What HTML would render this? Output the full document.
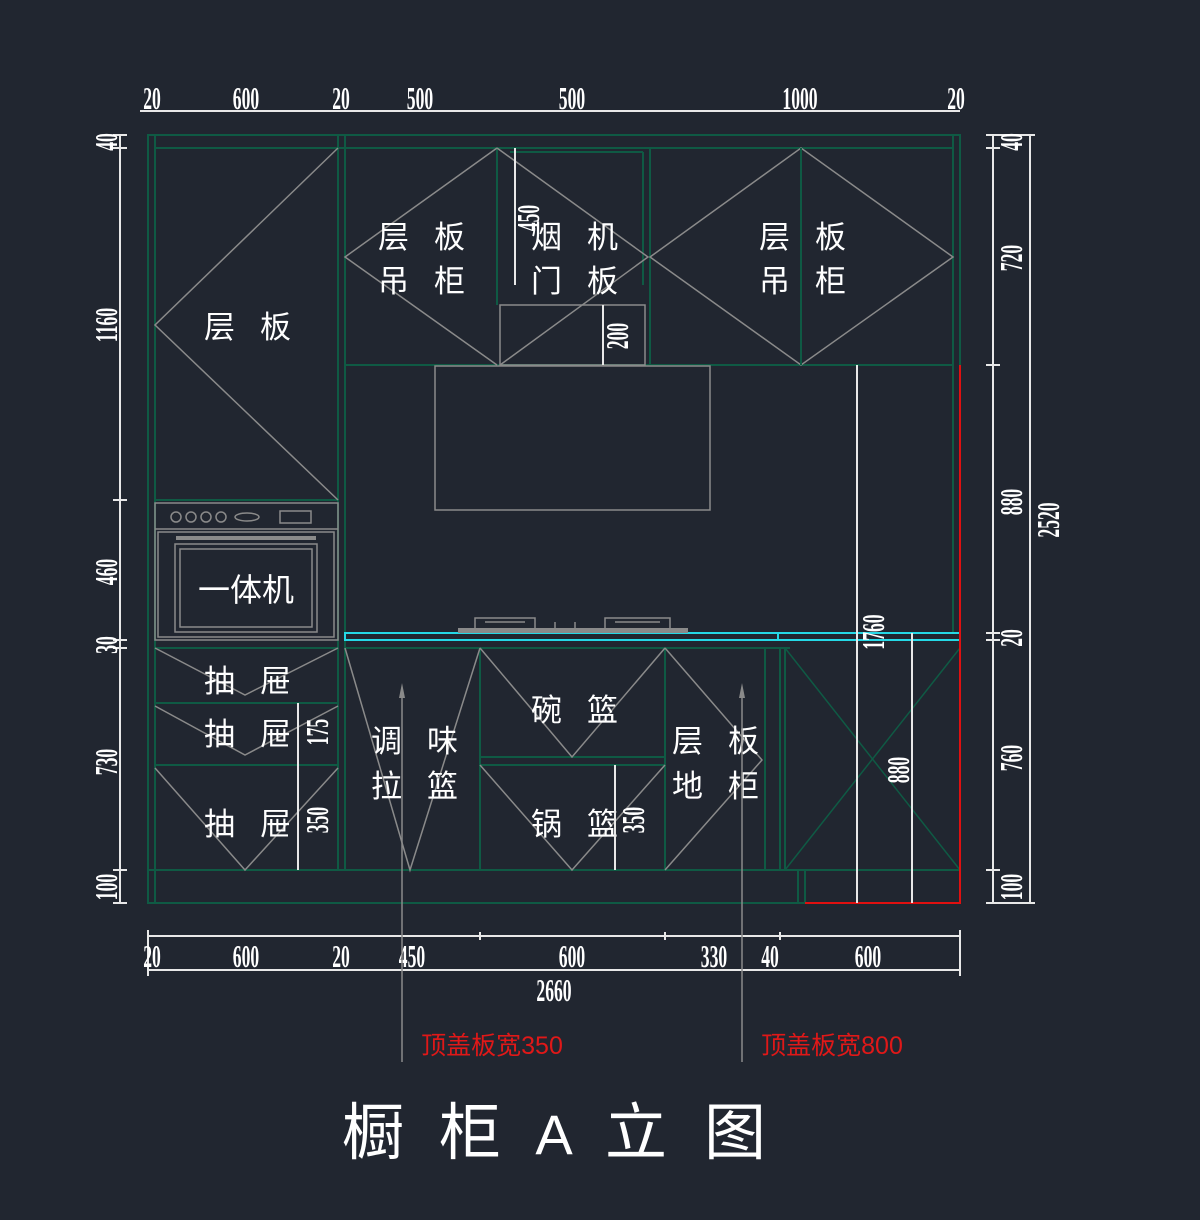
<!DOCTYPE html>
<html><head><meta charset="utf-8"><style>
html,body{margin:0;padding:0;background:#212630;}
svg{display:block}
.g{stroke:#0f5a44;stroke-width:2;fill:none}
.gy{stroke:#8a8a8a;stroke-width:1.5;fill:none}
.w{stroke:#e8e8e8;stroke-width:2;fill:none}
.d{fill:#fff;font-family:"Liberation Serif",serif;font-size:32px;text-anchor:middle;font-weight:bold}
.c{fill:#fff;font-family:"Liberation Sans","Noto Sans CJK SC",sans-serif;font-size:31px;text-anchor:middle;letter-spacing:25px}
</style></head><body>
<svg width="1200" height="1220" viewBox="0 0 1200 1220" xmlns="http://www.w3.org/2000/svg">
<rect width="1200" height="1220" fill="#212630"/>
<!-- frame -->
<rect x="148" y="135" width="812" height="768" class="g"/>
<line x1="155" y1="148" x2="953" y2="148" class="g"/>
<line x1="155" y1="135" x2="155" y2="903" class="g"/>
<line x1="338" y1="135" x2="338" y2="870" class="g"/>
<line x1="345" y1="135" x2="345" y2="870" class="g"/>
<line x1="953" y1="135" x2="953" y2="633" class="g"/>
<!-- left tall -->
<line x1="155" y1="500" x2="338" y2="500" class="g"/>
<polyline points="338,148 155,325 338,500" class="gy"/>
<text class="c" x="260" y="338">层板</text>
<!-- oven -->
<rect x="155" y="503" width="183" height="137" class="gy"/>
<line x1="155" y1="529" x2="338" y2="529" class="gy"/>
<rect x="158" y="532" width="176" height="105" class="gy"/>
<rect x="175" y="544" width="142" height="88" class="gy"/>
<rect x="180" y="549" width="132" height="78" class="gy"/>
<rect x="176" y="536" width="140" height="4" fill="#8a8a8a"/>
<g fill="none" stroke="#8a8a8a" stroke-width="1.5"><circle cx="176" cy="517" r="5"/><circle cx="191" cy="517" r="5"/><circle cx="206" cy="517" r="5"/><circle cx="221" cy="517" r="5"/><ellipse cx="247" cy="517" rx="12" ry="4"/><rect x="280" y="511" width="31" height="12"/></g>
<text x="246" y="601" fill="#fff" font-family="Liberation Sans,'Noto Sans CJK SC',sans-serif" font-size="32" text-anchor="middle">一体机</text>
<!-- drawers -->
<line x1="155" y1="648" x2="338" y2="648" class="g"/>
<line x1="155" y1="703" x2="338" y2="703" class="g"/>
<line x1="155" y1="765" x2="338" y2="765" class="g"/>
<line x1="148" y1="870" x2="960" y2="870" class="g"/>
<polyline points="155,648 245,695 338,648" class="gy"/>
<polyline points="155,706 245,755 338,706" class="gy"/>
<polyline points="155,768 245,870 338,768" class="gy"/>
<text class="c" x="260" y="692">抽屉</text>
<text class="c" x="260" y="745">抽屉</text>
<text class="c" x="260" y="835">抽屉</text>
<!-- upper cabinets -->
<line x1="345" y1="365" x2="953" y2="365" class="g"/>
<line x1="497" y1="148" x2="497" y2="305" class="g"/>
<line x1="650" y1="148" x2="650" y2="365" class="g"/>
<line x1="643" y1="152" x2="643" y2="285" class="g"/>
<line x1="510" y1="152" x2="643" y2="152" class="g"/>
<polyline points="497,148 345,257 497,365" class="gy"/>
<polyline points="497,148 648,257 500,365" class="gy"/>
<rect x="500" y="305" width="145" height="60" class="gy"/>
<polygon points="650,257 801,148 953,257 801,365" class="gy"/>
<line x1="801" y1="148" x2="801" y2="365" class="g"/>
<text class="c" x="434" y="248">层板</text>
<text class="c" x="434" y="292">吊柜</text>
<text class="c" x="587" y="248">烟机</text>
<text class="c" x="587" y="292">门板</text>
<text class="c" x="815" y="248">层板</text>
<text class="c" x="815" y="292">吊柜</text>
<!-- hood -->
<rect x="435" y="366" width="275" height="144" class="gy"/>
<!-- countertop & stove -->
<rect x="345" y="633" width="615" height="7" fill="none" stroke="#25d8e6" stroke-width="2"/>
<line x1="778" y1="633" x2="778" y2="640" stroke="#25d8e6" stroke-width="2"/>
<rect x="458" y="628" width="230" height="5" fill="#8a8a8a"/>
<path d="M475,628 v-10 h60 v10 M485,622 h40 M605,628 v-10 h65 v10 M615,622 h45 M555,628 v-6 M575,628 v-6" class="gy"/>
<!-- base -->
<line x1="480" y1="648" x2="480" y2="870" class="g"/>
<line x1="665" y1="648" x2="665" y2="870" class="g"/>
<line x1="765" y1="648" x2="765" y2="870" class="g"/>
<line x1="780" y1="648" x2="780" y2="870" class="g"/>
<line x1="785" y1="648" x2="785" y2="870" class="g"/>
<line x1="345" y1="648" x2="790" y2="648" class="g"/>
<line x1="480" y1="757" x2="665" y2="757" class="g"/>
<line x1="480" y1="765" x2="665" y2="765" class="g"/>
<polyline points="345,648 410,870 480,648" class="gy"/>
<polyline points="480,648 572,757 665,648" class="gy"/>
<polyline points="480,765 572,870 665,765" class="gy"/>
<polyline points="665,648 762,760 665,870" class="gy"/>
<line x1="785" y1="648" x2="960" y2="870" stroke="#0f5a44" stroke-width="1.5"/>
<line x1="960" y1="648" x2="785" y2="870" stroke="#0f5a44" stroke-width="1.5"/>
<line x1="798" y1="870" x2="798" y2="903" class="g"/>
<line x1="805" y1="870" x2="805" y2="903" class="g"/>
<text class="c" x="427" y="752">调味</text>
<text class="c" x="427" y="797">拉篮</text>
<text class="c" x="587" y="721">碗篮</text>
<text class="c" x="587" y="835">锅篮</text>
<text class="c" x="728" y="752">层板</text>
<text class="c" x="728" y="797">地柜</text>
<!-- red -->
<path d="M960,365 V903 H805" stroke="#e01010" stroke-width="2" fill="none"/>
<!-- inner dims -->
<line x1="515" y1="148" x2="515" y2="285" class="w"/>
<line x1="603" y1="305" x2="603" y2="365" class="w"/>
<line x1="857" y1="365" x2="857" y2="903" class="w"/>
<line x1="912" y1="633" x2="912" y2="903" class="w"/>
<line x1="298" y1="703" x2="298" y2="765" class="w"/>
<line x1="298" y1="765" x2="298" y2="870" class="w"/>
<line x1="615" y1="765" x2="615" y2="870" class="w"/>
<g class="d">
<text transform="translate(539,218) rotate(-90) scale(0.55,1)">450</text>
<text transform="translate(628,336) rotate(-90) scale(0.55,1)">200</text>
<text transform="translate(884,632) rotate(-90) scale(0.55,1)">1760</text>
<text transform="translate(909,770) rotate(-90) scale(0.55,1)">880</text>
<text transform="translate(328,732) rotate(-90) scale(0.55,1)">175</text>
<text transform="translate(328,820) rotate(-90) scale(0.55,1)">350</text>
<text transform="translate(644,820) rotate(-90) scale(0.55,1)">350</text>
</g>
<!-- top dims -->
<line x1="140" y1="111" x2="960" y2="111" class="w"/>
<g class="d">
<text transform="translate(152,109) scale(0.55,1)">20</text>
<text transform="translate(246,109) scale(0.55,1)">600</text>
<text transform="translate(341,109) scale(0.55,1)">20</text>
<text transform="translate(420,109) scale(0.55,1)">500</text>
<text transform="translate(572,109) scale(0.55,1)">500</text>
<text transform="translate(800,109) scale(0.55,1)">1000</text>
<text transform="translate(956,109) scale(0.55,1)">20</text>
</g>
<!-- left dims -->
<line x1="120" y1="135" x2="120" y2="903" class="w"/>
<g stroke="#e8e8e8" stroke-width="2"><line x1="113" y1="135" x2="127" y2="135"/><line x1="113" y1="148" x2="127" y2="148"/><line x1="113" y1="500" x2="127" y2="500"/><line x1="113" y1="640" x2="127" y2="640"/><line x1="113" y1="648" x2="127" y2="648"/><line x1="113" y1="870" x2="127" y2="870"/><line x1="113" y1="903" x2="127" y2="903"/></g>
<g class="d">
<text transform="translate(117,142) rotate(-90) scale(0.55,1)">40</text>
<text transform="translate(117,325) rotate(-90) scale(0.55,1)">1160</text>
<text transform="translate(117,572) rotate(-90) scale(0.55,1)">460</text>
<text transform="translate(117,645) rotate(-90) scale(0.55,1)">30</text>
<text transform="translate(117,762) rotate(-90) scale(0.55,1)">730</text>
<text transform="translate(117,887) rotate(-90) scale(0.55,1)">100</text>
</g>
<!-- right dims -->
<line x1="993" y1="135" x2="993" y2="903" class="w"/>
<line x1="1030" y1="135" x2="1030" y2="903" class="w"/>
<g stroke="#e8e8e8" stroke-width="2"><line x1="986" y1="135" x2="1035" y2="135"/><line x1="986" y1="148" x2="1000" y2="148"/><line x1="986" y1="365" x2="1000" y2="365"/><line x1="986" y1="633" x2="1000" y2="633"/><line x1="986" y1="640" x2="1000" y2="640"/><line x1="986" y1="870" x2="1000" y2="870"/><line x1="986" y1="903" x2="1035" y2="903"/></g>
<g class="d">
<text transform="translate(1022,142) rotate(-90) scale(0.55,1)">40</text>
<text transform="translate(1022,258) rotate(-90) scale(0.55,1)">720</text>
<text transform="translate(1022,502) rotate(-90) scale(0.55,1)">880</text>
<text transform="translate(1022,638) rotate(-90) scale(0.55,1)">20</text>
<text transform="translate(1022,758) rotate(-90) scale(0.55,1)">760</text>
<text transform="translate(1022,887) rotate(-90) scale(0.55,1)">100</text>
<text transform="translate(1059,520) rotate(-90) scale(0.55,1)">2520</text>
</g>
<!-- bottom dims -->
<line x1="148" y1="936" x2="960" y2="936" class="w"/>
<line x1="148" y1="970" x2="960" y2="970" class="w"/>
<g stroke="#e8e8e8" stroke-width="2"><line x1="148" y1="930" x2="148" y2="976"/><line x1="960" y1="930" x2="960" y2="976"/><line x1="480" y1="932" x2="480" y2="940"/><line x1="665" y1="932" x2="665" y2="940"/><line x1="780" y1="932" x2="780" y2="940"/></g>
<g class="d">
<text transform="translate(152,967) scale(0.55,1)">20</text>
<text transform="translate(246,967) scale(0.55,1)">600</text>
<text transform="translate(341,967) scale(0.55,1)">20</text>
<text transform="translate(412,967) scale(0.55,1)">450</text>
<text transform="translate(572,967) scale(0.55,1)">600</text>
<text transform="translate(714,967) scale(0.55,1)">330</text>
<text transform="translate(770,967) scale(0.55,1)">40</text>
<text transform="translate(868,967) scale(0.55,1)">600</text>
<text transform="translate(554,1001) scale(0.55,1)">2660</text>
</g>
<!-- arrows -->
<line x1="402" y1="688" x2="402" y2="1062" stroke="#8a8a8a" stroke-width="1.5"/>
<line x1="742" y1="688" x2="742" y2="1062" stroke="#8a8a8a" stroke-width="1.5"/>
<polygon points="402,683 399,698 405,698" fill="#8a8a8a"/>
<polygon points="742,683 739,698 745,698" fill="#8a8a8a"/>
<text x="492" y="1054" fill="#e01818" font-family="Liberation Sans,'Noto Sans CJK SC',sans-serif" font-size="25" text-anchor="middle">顶盖板宽350</text>
<text x="832" y="1054" fill="#e01818" font-family="Liberation Sans,'Noto Sans CJK SC',sans-serif" font-size="25" text-anchor="middle">顶盖板宽800</text>
<g fill="#fff" font-family="Liberation Sans,'Noto Sans CJK SC',sans-serif" font-size="62" text-anchor="middle">
<text x="373" y="1154">橱</text><text x="470" y="1154">柜</text><text x="554" y="1154" font-size="56">A</text><text x="636" y="1154">立</text><text x="735" y="1154">图</text>
</g>
</svg>
</body></html>
